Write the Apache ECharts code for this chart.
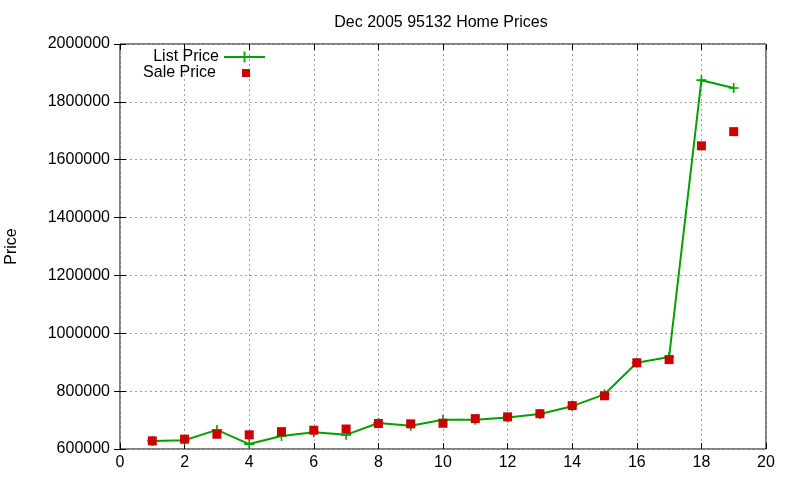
<!DOCTYPE html>
<html>
<head>
<meta charset="utf-8">
<script src="https://cdn.jsdelivr.net/npm/echarts@6/dist/echarts.min.js"></script>
<style>
html, body { margin: 0; padding: 0; background: #fff; }
#chart { width: 800px; height: 480px; }
</style>
</head>
<body>
<div id="chart"></div>
<script>
// house index on x, prices
const homeIdx = [1, 2, 3, 4, 5, 6, 7, 8, 9, 10, 11, 12, 13, 14, 15, 16, 17, 18, 19]
const listPrice = [628000, 630000, 666000, 617000, 645000, 658000, 649000, 690000, 680000, 701000,
  701000, 709000, 721000, 748000, 789000, 898000, 918000, 1875000, 1848000]
const salePrice = [628000, 634000, 651000, 649000, 660000, 665000, 669000, 688000, 687000, 689000,
  705000, 711000, 722000, 750000, 784000, 898000, 909000, 1648000, 1697000]

const green = '#00a000'
const red = '#cc0000'
const font = 'Liberation Sans, Arial, sans-serif'
const plusIcon = 'path://M4.2,0H5.8V10H4.2Z M0,4.2H10V5.8H0Z'

const gridLine = { show: true, lineStyle: { color: '#a0a0a0', type: [2, 3], width: 1 } }
const legendText = { fontFamily: font, fontSize: 16, color: '#000' }

let chart = echarts.init(document.getElementById('chart'))
chart.setOption({
  animation: false,
  backgroundColor: '#fff',
  title: {
    text: 'Dec 2005 95132 Home Prices',
    left: 436,
    top: 10,
    textAlign: 'center',
    textStyle: { fontFamily: font, fontSize: 16, fontWeight: 'normal', color: '#000' }
  },
  // two legends so the line sample and the square get their own sizes
  legend: [
    {
      orient: 'vertical',
      right: 534,
      top: 49,
      align: 'right',
      padding: 0,
      itemWidth: 41,
      itemHeight: 14,
      textStyle: legendText,
      data: ['List Price']
    },
    {
      orient: 'vertical',
      right: 550,
      top: 65,
      align: 'right',
      padding: 0,
      itemWidth: 8,
      itemHeight: 8,
      textStyle: Object.assign({ padding: [0, 21, 0, 0] }, legendText),
      data: ['Sale Price']
    }
  ],
  grid: {
    left: 120, right: 34, top: 44, bottom: 31,
    outerBoundsMode: 'none',
    show: true, borderColor: '#000', borderWidth: 1, backgroundColor: 'transparent'
  },
  xAxis: [
    {
      type: 'value', min: 0, max: 20, interval: 2,
      axisLine: { show: false },
      axisTick: { inside: true, length: 6, lineStyle: { color: '#000' } },
      axisLabel: { color: '#000', fontFamily: font, fontSize: 16, margin: 6 },
      splitLine: gridLine
    },
    {
      type: 'value', min: 0, max: 20, interval: 2, position: 'top',
      axisLine: { show: false },
      axisTick: { inside: true, length: 6, lineStyle: { color: '#000' } },
      axisLabel: { show: false },
      splitLine: { show: false }
    }
  ],
  yAxis: [
    {
      type: 'value', min: 600000, max: 2000000, interval: 200000,
      name: 'Price', nameLocation: 'middle', nameGap: 100, nameRotate: 90,
      nameTextStyle: { fontFamily: font, fontSize: 16, color: '#000' },
      axisLine: { show: false },
      axisTick: { inside: true, length: 6, lineStyle: { color: '#000' } },
      axisLabel: { color: '#000', fontFamily: font, fontSize: 16, margin: 10, formatter: v => String(v) },
      splitLine: gridLine
    },
    {
      type: 'value', min: 600000, max: 2000000, interval: 200000, position: 'right',
      axisLine: { show: false },
      axisTick: { inside: true, length: 6, lineStyle: { color: '#000' } },
      axisLabel: { show: false },
      splitLine: { show: false }
    }
  ],
  series: [
    {
      name: 'List Price',
      type: 'line',
      data: homeIdx.map((x, i) => [x, listPrice[i]]),
      symbol: plusIcon,
      symbolSize: 10,
      showAllSymbol: true,
      lineStyle: { color: green, width: 2 },
      itemStyle: { color: green },
      z: 2
    },
    {
      name: 'Sale Price',
      type: 'scatter',
      data: homeIdx.map((x, i) => [x, salePrice[i]]),
      symbol: 'rect',
      symbolSize: 9,
      itemStyle: { color: red, opacity: 1 },
      z: 3
    }
  ]
})
</script>
</body>
</html>
